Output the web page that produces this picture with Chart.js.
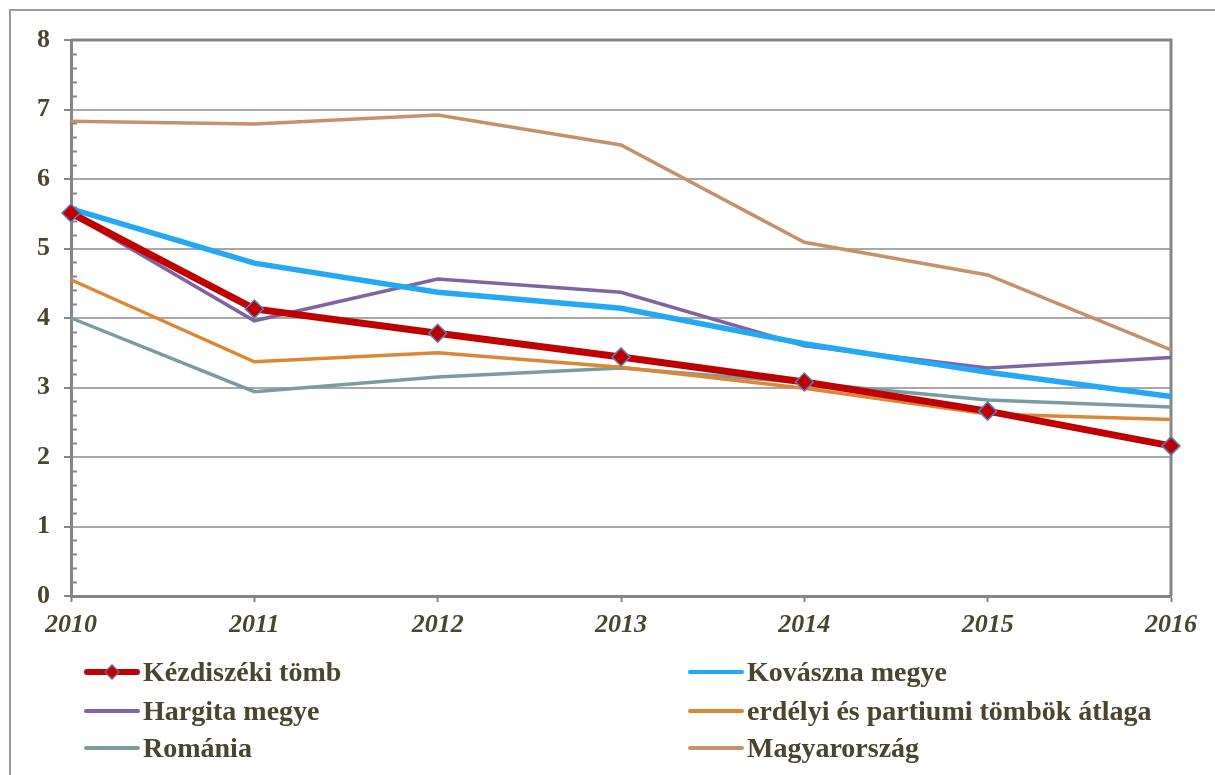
<!DOCTYPE html>
<html>
<head>
<meta charset="utf-8">
<script src="https://cdn.jsdelivr.net/npm/chart.js@4.4.1/dist/chart.umd.min.js"></script>
<style>
  html, body { margin: 0; padding: 0; background: #fff; }
  #wrap { position: relative; width: 1215px; height: 775px; overflow: hidden; }
  #frame { position: absolute; left: 9px; top: 9px; width: 1300px; height: 900px;
    border-left: 2px solid #9a9a9a; border-top: 2px solid #9a9a9a; }
  canvas { position: absolute; left: 0; top: 0; }
  .leg { position: absolute; height: 34px; display: flex; align-items: center;
    font-family: "Liberation Serif", "Times New Roman", serif; font-weight: bold;
    font-size: 28px; color: #4a452c; white-space: nowrap; }
  .sw { position: relative; display: inline-block; margin-right: 3px; border-radius: 3px; }
  .dia { position: absolute; width: 11px; height: 11px; left: 50%; top: 50%;
    transform: translate(-50%, -50%) rotate(45deg); box-sizing: border-box; }
</style>
</head>
<body>
<div id="wrap">
  <div id="frame"></div>
  <canvas id="chart" width="1215" height="775"></canvas>
  <div id="legend"></div>
</div>
<script>
// Data
const years = ["2010", "2011", "2012", "2013", "2014", "2015", "2016"]
const kezdiszek = [5.51, 4.13, 3.78, 3.44, 3.08, 2.66, 2.16]
const kovaszna = [5.57, 4.79, 4.37, 4.14, 3.63, 3.22, 2.87]
const hargita = [5.50, 3.96, 4.56, 4.37, 3.60, 3.28, 3.43]
const erdelyi = [4.55, 3.37, 3.50, 3.29, 2.99, 2.62, 2.54]
const romania = [4.00, 2.94, 3.15, 3.28, 3.07, 2.82, 2.72]
const magyarorszag = [6.83, 6.79, 6.92, 6.49, 5.09, 4.62, 3.54]

const textColor = "#4a452c"
const serif = "'Liberation Serif', 'Times New Roman', serif"

// series: label, data, colour, line width, legend column/row
const series = [
  { label: "Kézdiszéki tömb", data: kezdiszek, color: "#c00000", width: 7, col: 0, row: 0 },
  { label: "Kovászna megye", data: kovaszna, color: "#22a8f5", width: 5.5, col: 1, row: 0 },
  { label: "Hargita megye", data: hargita, color: "#8064a2", width: 3.5, col: 0, row: 1 },
  { label: "erdélyi és partiumi tömbök átlaga", data: erdelyi, color: "#dd8633", width: 3.5, col: 1, row: 1 },
  { label: "Románia", data: romania, color: "#7a9ba1", width: 3.5, col: 0, row: 2 },
  { label: "Magyarország", data: magyarorszag, color: "#c4916b", width: 3.5, col: 1, row: 2 },
]

const datasets = series.map((s, i) => ({
  label: s.label,
  data: s.data,
  borderColor: s.color,
  backgroundColor: s.color,
  borderWidth: s.width,
  tension: 0,
  pointRadius: i === 0 ? 9 : 0,
  pointStyle: "rectRot",
  pointBackgroundColor: "#c00000",
  pointBorderColor: "#4f81bd",
  pointBorderWidth: 1.5,
  clip: false,
}))

// frame on top/right and minor ticks on the y axis
const framePlugin = {
  id: "frame",
  beforeDatasetsDraw(chart) {
    const { ctx, chartArea: a, scales } = chart
    ctx.save()
    ctx.strokeStyle = "#868686"
    ctx.lineWidth = 3
    ctx.beginPath()
    ctx.moveTo(a.left, a.top)
    ctx.lineTo(a.right, a.top)
    ctx.lineTo(a.right, a.bottom)
    ctx.stroke()
    // minor ticks
    ctx.lineWidth = 2
    ctx.beginPath()
    for (let v = 0; v < 8; v += 0.2) {
      if (Math.abs(v - Math.round(v)) < 0.01) continue
      const y = Math.round(scales.y.getPixelForValue(v)) + 0.5
      ctx.moveTo(a.left, y)
      ctx.lineTo(a.left + 6, y)
    }
    ctx.stroke()
    ctx.restore()
  },
}

new Chart(document.getElementById("chart"), {
  type: "line",
  data: { labels: years, datasets: datasets },
  plugins: [framePlugin],
  options: {
    responsive: false,
    animation: false,
    layout: { padding: { left: 0, top: 40, right: 44, bottom: 0 } },
    plugins: { legend: { display: false }, tooltip: { enabled: false } },
    scales: {
      x: {
        offset: false,
        afterFit: (scale) => { scale.height = 179 },
        grid: { display: true, drawOnChartArea: false, drawTicks: true, tickLength: 6, tickColor: "#868686", tickWidth: 2 },
        border: { color: "#868686", width: 3 },
        ticks: { color: textColor, padding: 8, font: { family: serif, size: 26, weight: "bold", style: "italic" } },
      },
      y: {
        min: 0,
        max: 8,
        afterFit: (scale) => { scale.width = 71 },
        ticks: { stepSize: 1, color: textColor, padding: 14, font: { family: serif, size: 26, weight: "bold" } },
        grid: { color: "#a8a8a8", lineWidth: 2, tickLength: 7, tickColor: "#868686", tickWidth: 2 },
        border: { color: "#868686", width: 3 },
      },
    },
  },
})

// HTML legend built from the series
const legend = document.getElementById("legend")
const colX = [84, 688]
const rowY = [672, 711, 748]
series.forEach((s, i) => {
  const item = document.createElement("div")
  item.className = "leg"
  item.style.left = colX[s.col] + "px"
  item.style.top = rowY[s.row] - 17 + "px"
  const sw = document.createElement("span")
  sw.className = "sw"
  sw.style.width = "56px"
  sw.style.height = (i === 0 ? 6 : 4) + "px"
  sw.style.background = s.color
  if (i === 0) {
    const d = document.createElement("span")
    d.className = "dia"
    d.style.background = "#c00000"
    d.style.border = "1.5px solid #4f81bd"
    sw.appendChild(d)
  }
  item.appendChild(sw)
  item.appendChild(document.createTextNode(s.label))
  legend.appendChild(item)
})
</script>
</body>
</html>
